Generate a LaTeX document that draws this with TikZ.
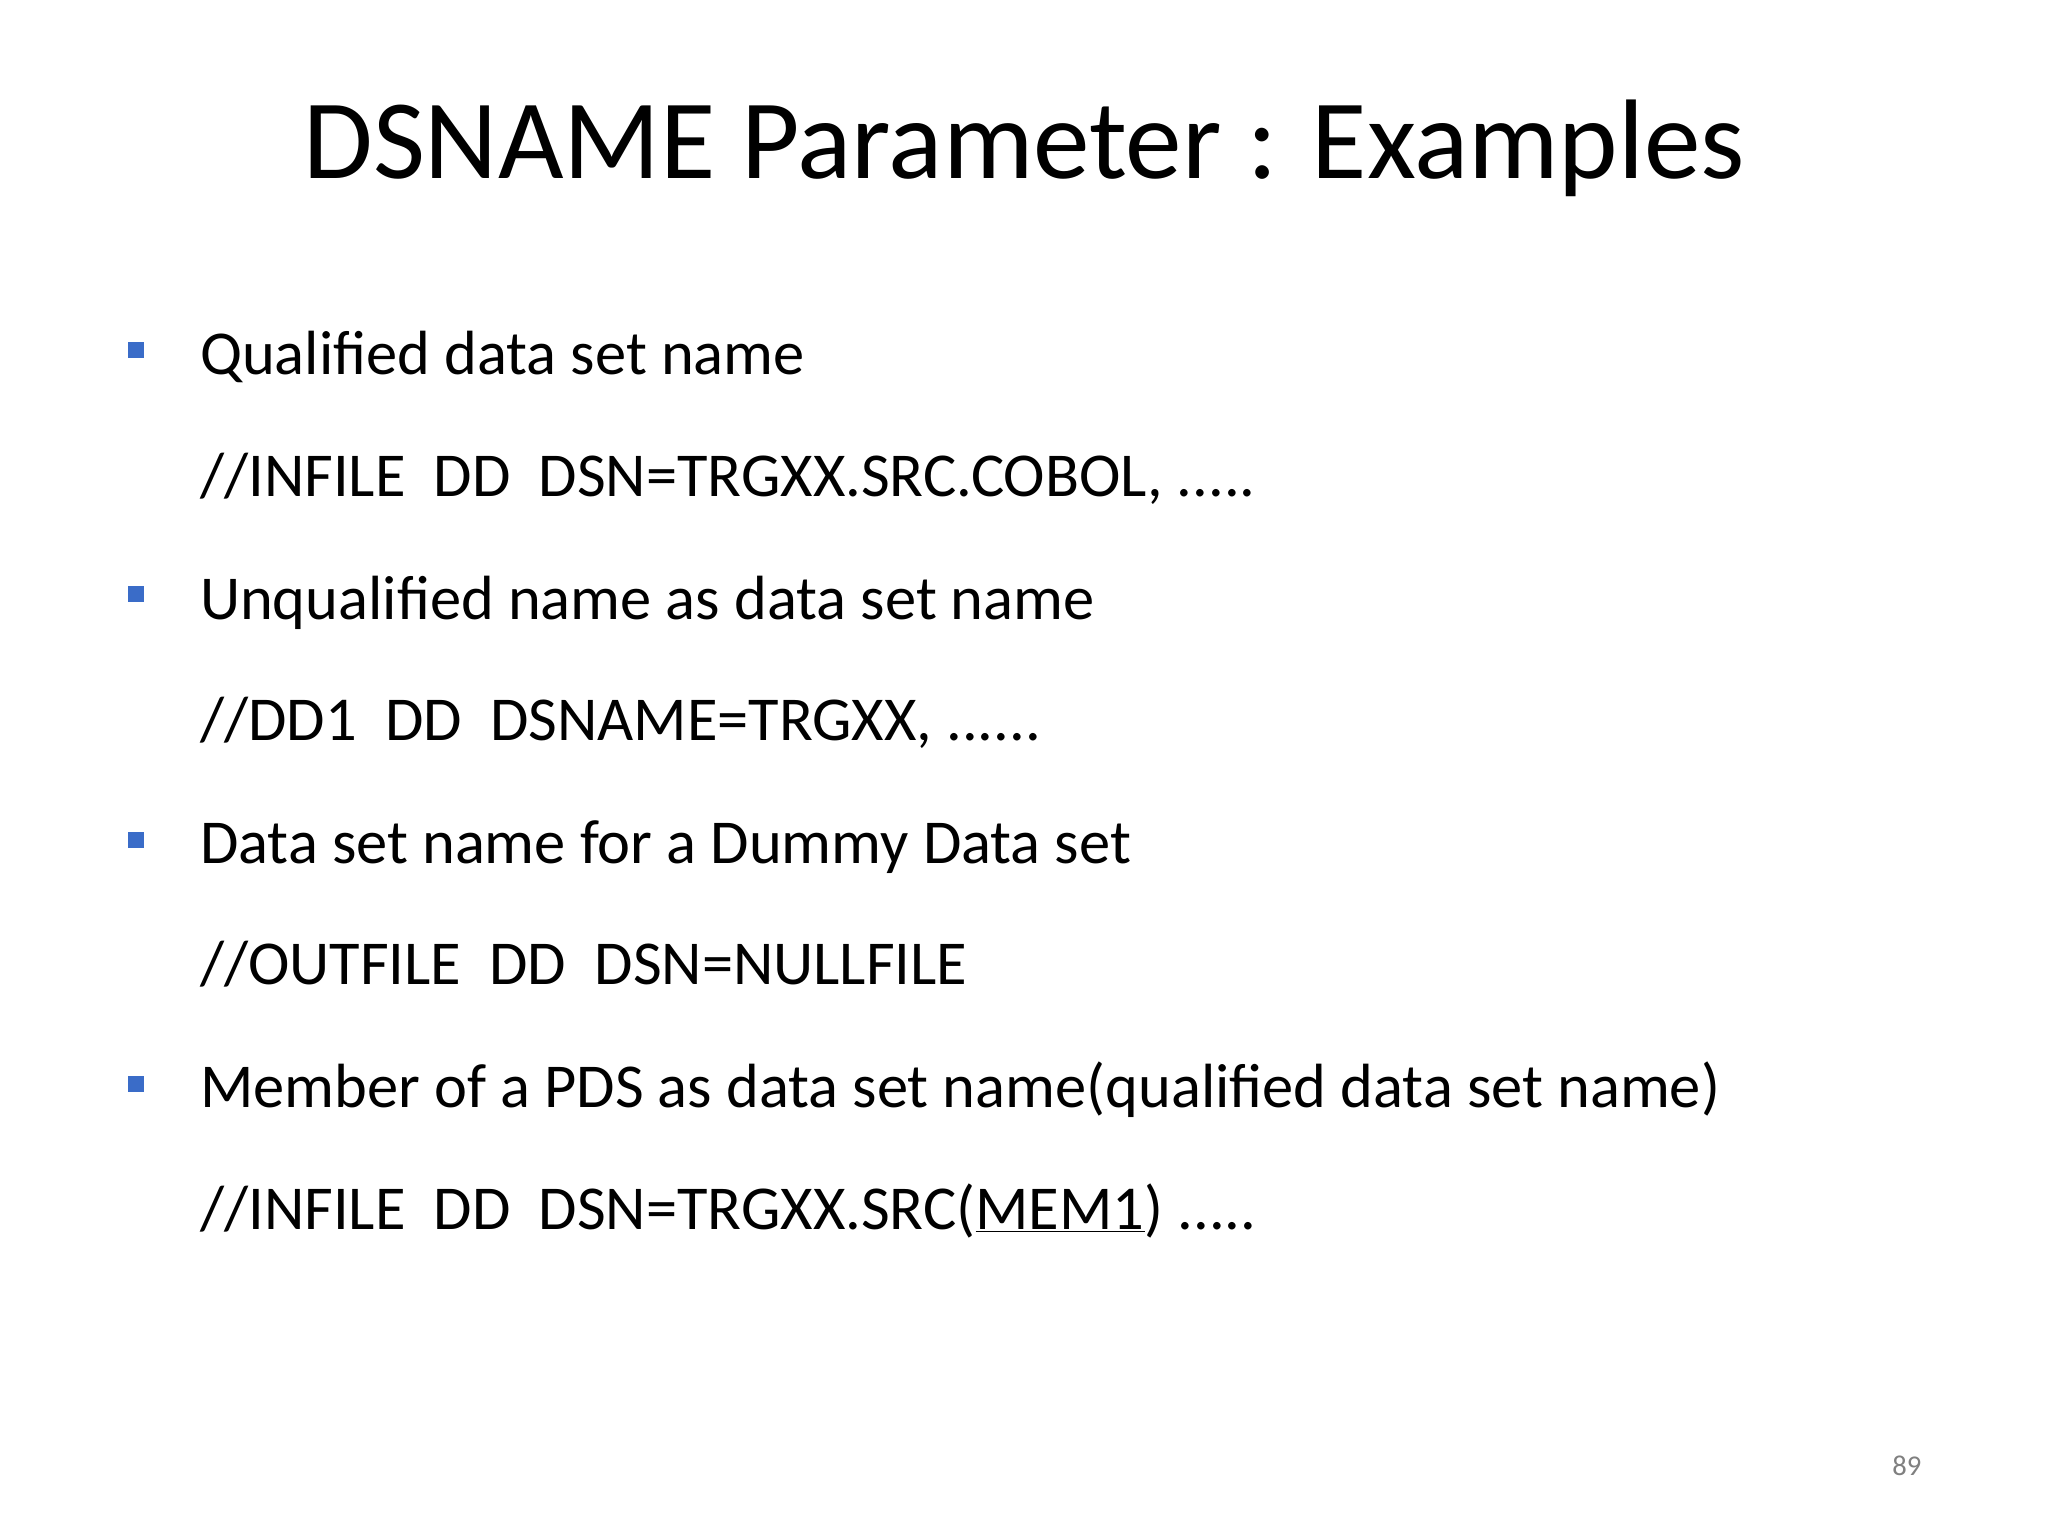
\documentclass[tikz,border=0pt]{standalone}
\usepackage{fontspec}
\setmainfont{Carlito}
\definecolor{bul}{HTML}{3A6CC8}
\begin{document}
\begin{tikzpicture}[x=1bp,y=-1bp,
  txt/.style={anchor=base west,inner sep=0pt,font=\fontsize{48}{56}\selectfont},
  bsq/.style={fill=bul,minimum size=12bp,inner sep=0pt}]
\useasboundingbox (0,0) rectangle (1568,1176);
\fill[white] (0,0) rectangle (1568,1176);
\node[anchor=base,inner sep=0pt,font=\fontsize{87}{100}\selectfont] (title) at (784,137) {DSNAME Parameter : Examples};
\node[bsq] (b1) at (104,268) {};
\node[txt] (t1) at (153,287) {Qualified data set name};
\node[txt] (c1) at (153,380) {//INFILE\ \ DD\ \ DSN=TRGXX.SRC.COBOL, .....};
\node[bsq] (b2) at (104,455) {};
\node[txt] (t2) at (153,474) {Unqualified name as data set name};
\node[txt] (c2) at (153,567) {//DD1\ \ DD\ \ DSNAME=TRGXX, ......};
\node[bsq] (b3) at (104,643) {};
\node[txt] (t3) at (153,661) {Data set name for a Dummy Data set};
\node[txt] (c3) at (153,754) {//OUTFILE\ \ DD\ \ DSN=NULLFILE};
\node[bsq] (b4) at (104,830) {};
\node[txt] (t4) at (153,848) {Member of a PDS as data set name(qualified data set name)};
\node[txt] (c4) at (153,941) {//INFILE\ \ DD\ \ DSN=TRGXX.SRC(\underline{MEM1}) .....};
\node[anchor=base,inner sep=0pt,font=\fontsize{22}{26}\selectfont,text=gray] (pg) at (1460,1130) {89};
\end{tikzpicture}
\end{document}
